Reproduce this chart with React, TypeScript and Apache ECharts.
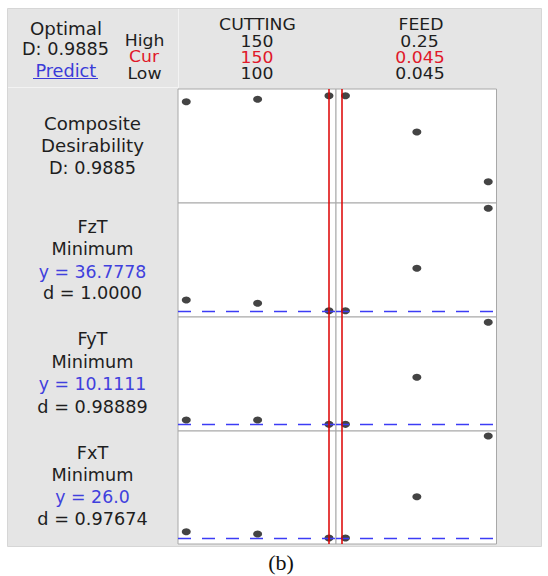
import React, { useEffect, useRef } from "react";
import * as echarts from "echarts";

// ---- data ----
const cuttingLevels = [100, 125, 150];
const feedLevels = [0.045, 0.1475, 0.25];
const factorNames = ["CUTTING", "FEED"];
const cuttingHeader = ["150", "150", "100"]; // High, Cur, Low
const feedHeader = ["0.25", "0.045", "0.045"]; // High, Cur, Low
const currentCutting = 150;
const currentFeed = 0.045;

const responseNames = ["FzT", "FyT", "FxT"];
const responseGoals = ["Minimum", "Minimum", "Minimum"];
const responseLabels = ["36.7778", "10.1111", "26.0"];
const desirabilityLabels = ["1.0000", "0.98889", "0.97674"];
const compositeLabel = "0.9885";

const compositeVsCutting = [0.933, 0.955, 0.9885];
const compositeVsFeed = [0.9885, 0.654, 0.196];
const fztVsCutting = [45.1, 42.6, 36.7778];
const fztVsFeed = [36.7778, 69.6, 115.9];
const fytVsCutting = [11.29, 11.29, 10.1111];
const fytVsFeed = [10.1111, 22.9, 37.86];
const fxtVsCutting = [28.85, 27.81, 26.0];
const fxtVsFeed = [26.0, 44.65, 72.04];
const currentResponses = [0.9885, 36.7778, 10.1111, 26.0];
const yMins = [0, 32, 8.3, 23.3];
const yMaxs = [1.05, 120, 39.3, 74.3];

// ---- layout (not data) ----
const rowTops = [89, 203, 317, 431];
const rowHeights = [114, 114, 114, 113];
const colLefts = [178, 336];
const colWidths = [158, 160.5];
const xRanges = [
  [97.09, 152.45],
  [0.03136, 0.2618],
];

const FONT = "DejaVu Sans";
const BLACK = "#1e1e1e";
const RED = "#e0182a";
const BLUE = "#4040dd";

function txt(
  text: string,
  x: number,
  y: number,
  fill = BLACK,
  size = 17,
  scaleX = 1.04,
  family = FONT
) {
  return {
    type: "text",
    x,
    y,
    scaleX,
    z: 10,
    style: {
      text,
      fill,
      fontSize: size,
      lineHeight: size,
      fontFamily: family,
      textAlign: "center",
      textVerticalAlign: "middle",
    },
  };
}

export default function App() {
  const ref = useRef<HTMLDivElement>(null);

  useEffect(() => {
    if (!ref.current) return;
    const chart = echarts.init(ref.current, undefined, { renderer: "svg" });

    const rowsData = [
      [compositeVsCutting, compositeVsFeed],
      [fztVsCutting, fztVsFeed],
      [fytVsCutting, fytVsFeed],
      [fxtVsCutting, fxtVsFeed],
    ];
    const levels = [cuttingLevels, feedLevels];
    const currents = [currentCutting, currentFeed];

    const grids: any[] = [];
    const xAxes: any[] = [];
    const yAxes: any[] = [];
    const series: any[] = [];

    for (let r = 0; r < 4; r++) {
      for (let c = 0; c < 2; c++) {
        const idx = grids.length;
        grids.push({
          left: colLefts[c],
          top: rowTops[r],
          width: colWidths[c],
          height: rowHeights[r],
          show: true,
          backgroundColor: "#ffffff",
          borderColor: "#a8a8a8",
          borderWidth: 1,
          containLabel: false,
        });
        xAxes.push({
          type: "value",
          gridIndex: idx,
          min: xRanges[c][0],
          max: xRanges[c][1],
          show: false,
        });
        yAxes.push({
          type: "value",
          gridIndex: idx,
          min: yMins[r],
          max: yMaxs[r],
          show: false,
        });
        if (r > 0) {
          series.push({
            type: "scatter",
            xAxisIndex: idx,
            yAxisIndex: idx,
            data: [],
            silent: true,
            z: 2,
            markLine: {
              silent: true,
              symbol: ["none", "none"],
              label: { show: false },
              lineStyle: { color: "#3c3cf5", width: 1.3, type: [13, 11], opacity: 1 },
              emphasis: { disabled: true },
              data: [{ yAxis: currentResponses[r] }],
            },
          });
        }
        series.push({
          type: "scatter",
          xAxisIndex: idx,
          yAxisIndex: idx,
          symbol: "circle",
          symbolSize: [9, 7],
          itemStyle: { color: "#444444", opacity: 1 },
          silent: true,
          z: 4,
          data: levels[c].map((x, i) => [x, rowsData[r][c][i]]),
        });
        series.push({
          type: "scatter",
          xAxisIndex: idx,
          yAxisIndex: idx,
          data: [],
          silent: true,
          z: 6,
          markLine: {
            silent: true,
            symbol: ["none", "none"],
            label: { show: false },
            lineStyle: { color: "#dd0000", width: 1.5, type: "solid", opacity: 1 },
            emphasis: { disabled: true },
            data: [{ xAxis: currents[c] }],
          },
        });
      }
    }

    const H = 15;
    const HS = 1.15;
    const graphics: any[] = [
      {
        type: "rect",
        z: -10,
        shape: { x: 7.5, y: 8.5, width: 534, height: 538 },
        style: { fill: "#e5e5e5", stroke: "#d6d6d6", lineWidth: 1 },
      },
      {
        type: "line",
        z: -5,
        shape: { x1: 8, y1: 87.5, x2: 178, y2: 87.5 },
        style: { stroke: "#f3f3f3", lineWidth: 1 },
      },
      {
        type: "line",
        z: -5,
        shape: { x1: 178.5, y1: 9, x2: 178.5, y2: 88 },
        style: { stroke: "#f3f3f3", lineWidth: 1 },
      },
      txt("Optimal", 66, 29.5, BLACK, 17, 1.07),
      txt("D: " + compositeLabel, 65.5, 49.5),
      txt("Predict", 65.8, 71.5, "#3b3bd8"),
      {
        type: "line",
        z: 10,
        shape: { x1: 33, y1: 78.5, x2: 98, y2: 78.5 },
        style: { stroke: "#3b3bd8", lineWidth: 1.2 },
      },
      txt("High", 144.5, 41, BLACK, H, HS),
      txt("Cur", 144, 57.3, RED, H, HS),
      txt("Low", 144.5, 73.5, BLACK, H, HS),
      txt(factorNames[0], 257.5, 24.5, BLACK, H, HS),
      txt(cuttingHeader[0], 257, 41.5, BLACK, H, HS),
      txt(cuttingHeader[1], 257, 57.5, RED, H, HS),
      txt(cuttingHeader[2], 257, 74, BLACK, H, HS),
      txt(factorNames[1], 421, 24.5, BLACK, H, HS),
      txt(feedHeader[0], 419.5, 41.7, BLACK, H, HS),
      txt(feedHeader[1], 420, 57.5, RED, H, HS),
      txt(feedHeader[2], 420, 74, BLACK, H, HS),
      txt("Composite", 92.5, 124, BLACK, 17, 1.07),
      txt("Desirability", 92.5, 146.5, BLACK, 17, 1.07),
      txt("D: " + compositeLabel, 92.5, 168.5),
      txt("(b)", 281, 562, "#111111", 22, 1, "Liberation Serif"),
    ];

    const rowTextYs = [
      [226.7, 248.7, 271.7, 293.3],
      [339.3, 361.7, 384.3, 407.3],
      [452.7, 475, 496.7, 519.3],
    ];
    for (let i = 0; i < 3; i++) {
      const ys = rowTextYs[i];
      graphics.push(txt(responseNames[i], 92.5, ys[0]));
      graphics.push(txt(responseGoals[i], 92.5, ys[1]));
      graphics.push(txt("y = " + responseLabels[i], 92.5, ys[2], BLUE, 17, 1.02));
      graphics.push(txt("d = " + desirabilityLabels[i], 92.5, ys[3]));
    }

    chart.setOption({
      animation: false,
      backgroundColor: "#ffffff",
      grid: grids,
      xAxis: xAxes,
      yAxis: yAxes,
      series,
      graphic: { elements: graphics },
    });

    return () => chart.dispose();
  }, []);

  return (
    <div
      ref={ref}
      style={{ position: "absolute", left: 0, top: 0, width: 548, height: 576 }}
    />
  );
}
